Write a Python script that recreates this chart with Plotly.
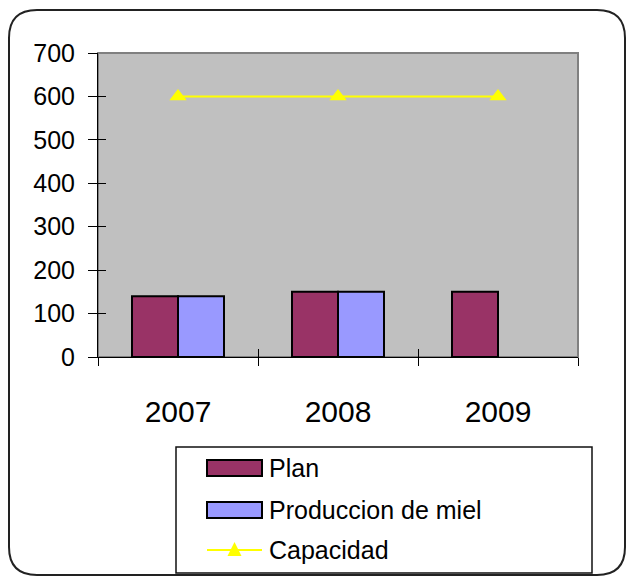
import plotly.graph_objects as go

# --- data -------------------------------------------------------------
years = ["2007", "2008", "2009"]
plan = [140, 150, 150]
produccion = [140, 150, None]
capacidad = [600, 600, 600]
series_names = ["Plan", "Produccion de miel", "Capacidad"]
y_tick_values = [0, 100, 200, 300, 400, 500, 600, 700]

# --- styling ----------------------------------------------------------
FONT = "Liberation Sans, Arial, sans-serif"
PLAN_COLOR = "#993366"
PROD_COLOR = "#9999FF"
CAP_COLOR = "#FFFF00"
PLOT_BG = "#C0C0C0"

W, H = 626, 577
L, R, T, B = 98, 48, 53, 220
PW, PH = W - L - R, H - T - B


def px(x):
    """pixel x -> paper x"""
    return (x - L) / PW


def py(y):
    """pixel y (from top) -> paper y"""
    return (H - B - y) / PH


def rounded_rect(x0, y0, x1, y1, r):
    return (
        f"M {px(x0 + r)},{py(y0)} L {px(x1 - r)},{py(y0)} "
        f"Q {px(x1)},{py(y0)} {px(x1)},{py(y0 + r)} "
        f"L {px(x1)},{py(y1 - r)} "
        f"Q {px(x1)},{py(y1)} {px(x1 - r)},{py(y1)} "
        f"L {px(x0 + r)},{py(y1)} "
        f"Q {px(x0)},{py(y1)} {px(x0)},{py(y1 - r)} "
        f"L {px(x0)},{py(y0 + r)} "
        f"Q {px(x0)},{py(y0)} {px(x0 + r)},{py(y0)} Z"
    )


fig = go.Figure()

fig.add_trace(go.Bar(
    x=years, y=plan, name=series_names[0],
    marker=dict(color=PLAN_COLOR, line=dict(color="black", width=2)),
    showlegend=False,
))
fig.add_trace(go.Bar(
    x=years, y=produccion, name=series_names[1],
    marker=dict(color=PROD_COLOR, line=dict(color="black", width=2)),
    showlegend=False,
))
fig.add_trace(go.Scatter(
    x=years, y=capacidad, name=series_names[2], mode="lines+markers",
    line=dict(color=CAP_COLOR, width=2),
    marker=dict(symbol="triangle-up", size=15, color=CAP_COLOR),
    showlegend=False,
))
# empty trace so the overlay axes (inner half of the crossing ticks) get drawn
fig.add_trace(go.Scatter(
    x=[None], y=[None], xaxis="x2", yaxis="y2", mode="markers",
    showlegend=False, hoverinfo="skip",
))

shapes = []
# outer rounded frame
shapes.append(dict(type="path", xref="paper", yref="paper",
                   path=rounded_rect(9, 10, 625, 575, 28),
                   line=dict(color="#222222", width=2), layer="below"))
# plot-area frame
shapes.append(dict(type="rect", xref="paper", yref="paper",
                   x0=0, y0=0, x1=1, y1=1,
                   line=dict(color="#808080", width=2), layer="below"))
# legend box
shapes.append(dict(type="rect", xref="paper", yref="paper",
                   x0=px(176), y0=py(447), x1=px(592), y1=py(573),
                   line=dict(color="#111111", width=1.5),
                   fillcolor="white", layer="below"))

annotations = []
legend_rows = [468, 510, 550]
swatch_x0, swatch_x1 = 207, 262
for name, color, yc in zip(series_names[:2], [PLAN_COLOR, PROD_COLOR], legend_rows[:2]):
    shapes.append(dict(type="rect", xref="paper", yref="paper",
                       x0=px(swatch_x0), x1=px(swatch_x1),
                       y0=py(yc - 8), y1=py(yc + 8),
                       fillcolor=color, line=dict(color="black", width=2)))
# line + triangle legend key
yc = legend_rows[2]
shapes.append(dict(type="line", xref="paper", yref="paper",
                   x0=px(swatch_x0), x1=px(swatch_x1), y0=py(yc), y1=py(yc),
                   line=dict(color=CAP_COLOR, width=2)))
tx = (swatch_x0 + swatch_x1) / 2
shapes.append(dict(type="path", xref="paper", yref="paper",
                   path=f"M {px(tx - 7)},{py(yc + 6)} L {px(tx + 7)},{py(yc + 6)} "
                        f"L {px(tx)},{py(yc - 8)} Z",
                   fillcolor=CAP_COLOR, line=dict(color=CAP_COLOR, width=0)))

for name, yc in zip(series_names, legend_rows):
    annotations.append(dict(xref="paper", yref="paper", x=px(267), y=py(yc),
                            text=name, showarrow=False, xanchor="left",
                            yanchor="middle",
                            font=dict(family=FONT, size=25, color="black")))

fig.update_layout(
    width=W, height=H,
    margin=dict(l=L, r=R, t=T, b=B, pad=0),
    paper_bgcolor="white",
    plot_bgcolor=PLOT_BG,
    barmode="group",
    bargap=0.425,
    bargroupgap=0,
    font=dict(family=FONT, color="black"),
    showlegend=False,
    shapes=shapes,
    annotations=annotations,
    xaxis=dict(
        type="category", range=[-0.5, 2.5],
        tickson="boundaries", ticks="outside", ticklen=8, tickwidth=1,
        tickcolor="black", showline=True, linecolor="black", linewidth=1,
        showgrid=False, zeroline=False,
        tickfont=dict(family=FONT, size=30),
        ticklabelstandoff=28,
    ),
    xaxis2=dict(
        overlaying="x", anchor="y", side="bottom", range=[-0.5, 2.5],
        tick0=-0.5, dtick=1, ticks="inside", ticklen=8, tickwidth=1,
        tickcolor="black", showticklabels=False, showgrid=False,
        zeroline=False, showline=False,
    ),
    yaxis=dict(
        range=[0, 700], tickvals=y_tick_values,
        ticks="outside", ticklen=9, tickwidth=1, tickcolor="black",
        showline=True, linecolor="black", linewidth=1,
        showgrid=False, zeroline=False,
        tickfont=dict(family=FONT, size=25),
        ticklabelstandoff=8,
    ),
    yaxis2=dict(
        overlaying="y", anchor="x", side="left", range=[0, 700],
        tickvals=y_tick_values, ticks="inside", ticklen=8, tickwidth=1,
        tickcolor="black", showticklabels=False, showgrid=False,
        zeroline=False, showline=False,
    ),
)

fig.write_html("out.html")
